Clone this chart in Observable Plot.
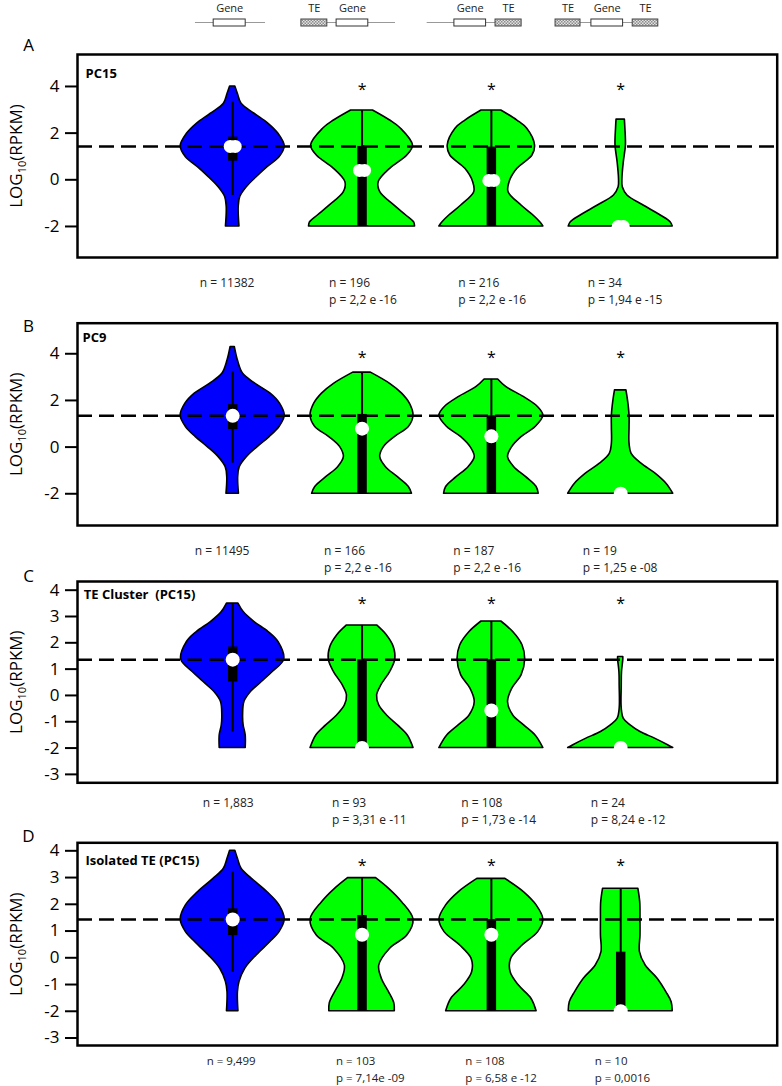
<!DOCTYPE html>
<html><head><meta charset="utf-8">
<script src="https://cdn.jsdelivr.net/npm/d3@7"></script>
<script src="https://cdn.jsdelivr.net/npm/@observablehq/plot@0.6"></script>
<style>
body{margin:0;background:#fff;}
#chart{position:relative;width:782px;height:1086px;font-family:"Open Sans",sans-serif;}
#chart svg{position:absolute;left:0;}
</style></head><body>
<svg width="0" height="0" style="position:absolute"><defs>
<pattern id="teHatch" patternUnits="userSpaceOnUse" width="3" height="3">
<rect width="3" height="3" fill="#e2e2e2"/><rect width="1.5" height="1.5" fill="#8c8c8c"/><rect x="1.5" y="1.5" width="1.5" height="1.5" fill="#8c8c8c"/>
</pattern></defs></svg>
<div id="chart"></div>
<script>
// ---------- data ----------
const categories = ["Gene", "TE-Gene", "Gene-TE", "TE-Gene-TE"];
const letters = ["A", "B", "C", "D"];
const titles = ["PC15", "PC9", "TE Cluster  (PC15)", "Isolated TE (PC15)"];
const refLines = [1.43, 1.34, 1.36, 1.43];
const starY = [4.0, 3.96, 3.61, 3.57];

// violin profiles: [log10 RPKM, relative density (half-width)]
const profA = [
  [[-2,0.13],[-1.17,0.115],[-0.74,0.145],[-0.32,0.27],[0.11,0.46],[0.54,0.67],[0.97,0.9],[1.43,1.0],[1.97,0.88],[2.40,0.69],[2.83,0.42],[3.26,0.17],[3.68,0.1],[4.0,0.05]],
  [[-2,1.02],[-1.82,1.0],[-1.53,0.85],[-1.10,0.62],[-0.53,0.35],[-0.10,0.32],[0.47,0.54],[1.04,0.87],[1.47,0.98],[2.19,0.75],[2.54,0.54],[2.97,0.21]],
  [[-2,1.0],[-1.82,0.94],[-1.53,0.81],[-1.10,0.58],[-0.53,0.33],[-0.10,0.35],[0.47,0.5],[1.04,0.79],[1.47,0.84],[2.19,0.69],[2.54,0.5],[2.97,0.19]],
  [[-2,1.0],[-1.82,0.96],[-1.53,0.77],[-1.10,0.44],[-0.67,0.13],[-0.32,0.04],[0.04,0.033],[0.76,0.06],[1.47,0.10],[2.19,0.09],[2.58,0.08]]
];
const profB = [
  [[-2,0.12],[-1.29,0.105],[-0.86,0.135],[-0.43,0.27],[0,0.48],[0.43,0.71],[0.86,0.9],[1.34,1.0],[1.86,0.91],[2.29,0.73],[2.71,0.44],[3.14,0.2],[3.71,0.1],[4.29,0.04]],
  [[-2,0.96],[-1.71,0.9],[-1.29,0.69],[-0.86,0.46],[-0.43,0.35],[0,0.42],[0.43,0.63],[0.86,0.9],[1.34,0.99],[1.86,0.92],[2.29,0.77],[2.71,0.54],[3.19,0.17]],
  [[-2,0.91],[-1.71,0.87],[-1.29,0.67],[-0.86,0.44],[-0.43,0.32],[0,0.4],[0.43,0.58],[0.86,0.85],[1.34,1.0],[1.71,0.9],[2.14,0.63],[2.57,0.29],[2.9,0.13]],
  [[-2,1.01],[-1.57,0.88],[-1.14,0.67],[-0.71,0.4],[-0.29,0.21],[0.14,0.17],[0.86,0.17],[1.34,0.17],[2.0,0.14],[2.43,0.11]]
];
const profC = [
  [[-2,0.25],[-1.52,0.25],[-1.14,0.21],[-0.76,0.2],[-0.25,0.225],[0.13,0.35],[0.51,0.56],[0.89,0.77],[1.36,0.99],[2.03,0.88],[2.41,0.69],[2.79,0.42],[3.17,0.21],[3.49,0.11]],
  [[-2,0.99],[-1.52,0.88],[-1.14,0.69],[-0.76,0.48],[-0.38,0.33],[0,0.29],[0.38,0.37],[0.89,0.54],[1.36,0.64],[1.84,0.61],[2.28,0.48],[2.66,0.29]],
  [[-2,1.0],[-1.52,0.85],[-1.14,0.63],[-0.76,0.42],[-0.25,0.32],[0.25,0.4],[0.76,0.58],[1.36,0.65],[1.9,0.6],[2.41,0.42],[2.81,0.19]],
  [[-2,1.01],[-1.9,0.92],[-1.65,0.67],[-1.39,0.38],[-1.14,0.19],[-0.89,0.06],[-0.51,0.02],[0.38,0.02],[0.89,0.025],[1.36,0.05],[1.46,0.05]]
];
const profD = [
  [[-2,0.11],[-1.29,0.1],[-0.91,0.13],[-0.41,0.24],[0.09,0.46],[0.58,0.72],[0.96,0.9],[1.43,1.0],[1.96,0.9],[2.45,0.67],[2.95,0.37],[3.33,0.17],[3.70,0.1],[4.0,0.05]],
  [[-2,0.63],[-1.7,0.62],[-1.29,0.52],[-0.78,0.38],[-0.29,0.33],[0.34,0.54],[0.83,0.87],[1.43,0.99],[2.08,0.77],[2.58,0.52],[2.98,0.27]],
  [[-2,0.87],[-1.53,0.77],[-1.04,0.53],[-0.54,0.37],[-0.04,0.38],[0.46,0.6],[0.96,0.9],[1.43,1.0],[1.96,0.87],[2.45,0.63],[2.95,0.27]],
  [[-2,1.0],[-1.66,0.98],[-1.29,0.88],[-0.78,0.71],[-0.29,0.48],[0.21,0.37],[0.83,0.38],[1.43,0.38],[2.08,0.375],[2.58,0.34]]
];

// box stats: [whisker low, q1, median, q3, whisker high]
const boxA = [[-0.67,0.8,1.43,1.83,3.33],[-2,-2,0.4,1.43,2.97],[-2,-2,-0.03,1.4,2.97],[-2,-2,-2,-2,-2]];
const boxB = [[-0.69,0.75,1.34,1.82,3.24],[-2,-2,0.79,1.4,3.19],[-2,-2,0.46,1.34,2.9],[-2,-2,-2,-2,-2]];
const boxC = [[-1.39,0.51,1.36,1.84,3.49],[-2,-2,-2,1.36,2.66],[-2,-2,-0.57,1.36,2.81],[-2,-2,-2,-2,-2]];
const boxD = [[-0.54,0.83,1.43,1.83,3.2],[-2,-2,0.86,1.58,2.98],[-2,-2,0.86,1.43,2.95],[-2,-2,-2,0.21,2.58]];

const nA = ["11382","196","216","34"];   const pA = [null,"2,2 e -16","2,2 e -16","1,94 e -15"];
const nB = ["11495","166","187","19"];   const pB = [null,"2,2 e -16","2,2 e -16","1,25 e -08"];
const nC = ["1,883","93","108","24"];    const pC = [null,"3,31 e -11","1,73 e -14","8,24 e -12"];
const nD = ["9,499","103","108","10"];   const pD = [null,"7,14e -09","6,58 e -12","0,0016"];

const ticksAB = [-2, 0, 2, 4];
const ticksCD = [-3, -2, -1, 0, 1, 2, 3, 4];

// schematic gene models (gene-length units along one track)
const diagramLines = [[0,2.19],[4.12,6.25],[7.24,9.375],[12.03,13.66]];
const geneBoxes = [[0.57,1.57],[4.41,5.40],[8.09,9.08],[12.37,13.36]];
const teBoxes = [[3.31,4.12],[9.375,10.19],[11.25,12.03],[13.66,14.46]];

// ---------- drawing ----------
const BLUE = "#0000ff", GREEN = "#00ff00";
const K = 0.402;
const FONT = "'Open Sans', sans-serif";
const chart = document.getElementById("chart");

const hdr = Plot.plot({
  width: 782, height: 36, margin: 0,
  x: {domain: [-6.09, 18.34], axis: null},
  y: {type: "band", domain: ["track"], range: [19, 26.5], padding: 0, axis: null},
  style: {fontFamily: FONT, background: "transparent", overflow: "visible"},
  marks: [
    Plot.barX(diagramLines, {x1: d => d[0], x2: d => d[1], y: () => "track", insetTop: 3.25, insetBottom: 3.25, fill: "#333"}),
    Plot.barX(geneBoxes, {x1: d => d[0], x2: d => d[1], y: () => "track", fill: "white", stroke: "#333", strokeWidth: 1}),
    Plot.barX(teBoxes, {x1: d => d[0], x2: d => d[1], y: () => "track", fill: "url(#teHatch)", stroke: "#444", strokeWidth: 1}),
    Plot.text(geneBoxes, {x: d => (d[0] + d[1]) / 2, y: () => "track", text: () => "Gene", dy: -14.5, fontSize: 11, fill: "#222"}),
    Plot.text(teBoxes, {x: d => (d[0] + d[1]) / 2, y: () => "track", text: () => "TE", dy: -14.5, fontSize: 11, fill: "#222"})
  ]
});
hdr.style.top = "0px";
chart.appendChild(hdr);

const layouts = [
  {top: 36, height: 271, mt: 18, mb: 50, yDomain: [-3.33, 5.37], ticks: ticksAB, titleDx: 8, titleDy: 19, letterDy: -9, textDx: -33, textDy: 17, fs: 12, lh: 1.45, medStretch: 2.5},
  {top: 307, height: 267, mt: 15.7, mb: 49, yDomain: [-3.36, 5.31], ticks: ticksAB, titleDx: 5, titleDy: 14.6, letterDy: 3.3, textDx: -38, textDy: 18, fs: 12, lh: 1.38, medStretch: 0},
  {top: 574, height: 252, mt: 7, mb: 43.7, yDomain: [-3.32, 4.33], ticks: ticksCD, titleDx: 6.3, titleDy: 13.3, letterDy: -5, textDx: -30, textDy: 12.5, fs: 12, lh: 1.38, medStretch: 0},
  {top: 826, height: 260, mt: 16.3, mb: 41, yDomain: [-3.28, 4.30], ticks: ticksCD, titleDx: 8, titleDy: 17.7, letterDy: -6, textDx: -26, textDy: 8.3, fs: 11.5, lh: 1.42, medStretch: 0}
];
const panels = [[profA, boxA, nA, pA], [profB, boxB, nB, pB], [profC, boxC, nC, pC], [profD, boxD, nD, pD]];

panels.forEach(([prof, box, ns, ps], idx) => {
  const L = layouts[idx];
  const rows = prof.flatMap((pts, c) => pts.map(([y, w]) => ({col: c + 1, cat: categories[c], y, w})));
  const stats = box.map((b, c) => ({col: c + 1, lo: b[0], q1: b[1], med: b[2], q3: b[3], hi: b[4]}));
  const ann = ns.map((n, c) => ({col: c + 1, text: ps[c] ? `n = ${n}\np = ${ps[c]}` : `n = ${n}`}));
  const stars = [2, 3, 4].map(col => ({col, y: starY[idx]}));
  const medMarks = L.medStretch
    ? [Plot.dot(stats, {x: "col", y: "med", r: 6.5, fill: "white", dx: -L.medStretch}),
       Plot.dot(stats, {x: "col", y: "med", r: 6.5, fill: "white", dx: L.medStretch})]
    : [Plot.dot(stats, {x: "col", y: "med", r: 7, fill: "white"})];
  const svg = Plot.plot({
    width: 782, height: L.height,
    marginLeft: 77, marginRight: 5.3, marginTop: L.mt, marginBottom: L.mb,
    x: {domain: [-0.2, 5.21], axis: null},
    y: {domain: L.yDomain},
    color: {type: "identity"},
    style: {fontFamily: FONT, background: "transparent", overflow: "visible", color: "black"},
    marks: [
      Plot.areaX(rows, {y: "y", x1: d => d.col - d.w * K, x2: d => d.col + d.w * K, z: "col",
        fill: d => d.col === 1 ? BLUE : GREEN, stroke: "black", strokeWidth: 1.6, curve: "catmull-rom"}),
      Plot.ruleY([refLines[idx]], {stroke: "black", strokeWidth: 2.5, strokeDasharray: "15,7"}),
      Plot.ruleX(stats, {x: "col", y1: "lo", y2: "hi", stroke: "black", strokeWidth: 2}),
      Plot.ruleX(stats, {x: "col", y1: "q1", y2: "q3", stroke: "black", strokeWidth: 9.5}),
      ...medMarks,
      Plot.text(stars, {x: "col", y: "y", text: () => "*", fontSize: 16, dy: 3.5}),
      Plot.text(ann, {x: "col", text: "text", frameAnchor: "bottom", textAnchor: "start", lineAnchor: "top",
        dx: L.textDx, dy: L.textDy, fontSize: L.fs, lineHeight: L.lh, fill: "#222"}),
      Plot.text([titles[idx]], {frameAnchor: "top-left", textAnchor: "start", lineAnchor: "middle",
        dx: L.titleDx, dy: L.titleDy, fontWeight: "bold", fontSize: 13}),
      Plot.text([letters[idx]], {frameAnchor: "top-left", textAnchor: "middle", lineAnchor: "middle",
        dx: -49, dy: L.letterDy, fontSize: 17}),
      Plot.text(["LOG10(RPKM)"], {frameAnchor: "left", textAnchor: "middle", lineAnchor: "middle",
        dx: -61, rotate: -90, fontSize: 17}),
      Plot.axisY({ticks: L.ticks, tickFormat: d => String(d), tickSize: 12, tickPadding: 6,
        fontSize: 17, strokeWidth: 2, label: null}),
      Plot.frame({stroke: "black", strokeWidth: 2.5})
    ]
  });
  const lab = Array.from(svg.querySelectorAll("text")).find(t => t.textContent === "LOG10(RPKM)");
  if (lab) lab.innerHTML = 'LOG<tspan font-size="11" dy="4">10</tspan><tspan dy="-4">(RPKM)</tspan>';
  svg.style.top = L.top + "px";
  chart.appendChild(svg);
});
</script>
</body></html>
